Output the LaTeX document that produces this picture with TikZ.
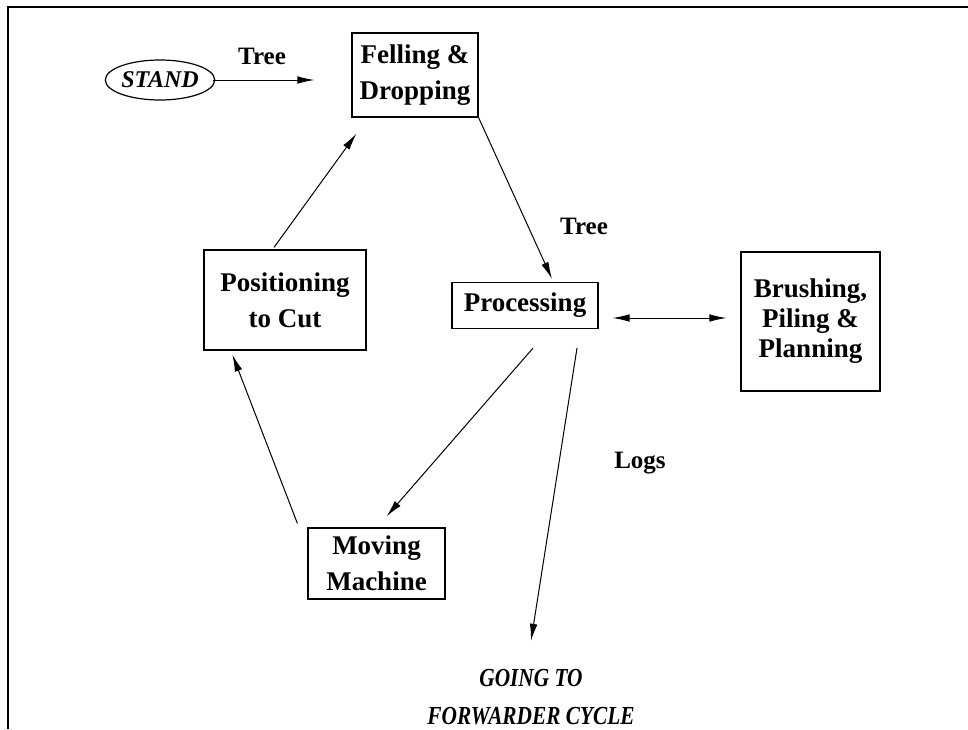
\documentclass[tikz,border=0pt]{standalone}
\usepackage{fontspec}
\setmainfont{Liberation Serif}
\newfontfamily\narrowfont[FakeStretch=0.82]{Liberation Serif}
\usetikzlibrary{arrows.meta,shapes.geometric}

\tikzset{
	stepbox/.style={draw,line width=0.6pt,align=center,inner sep=0pt,
		font=\fontsize{13.5}{18}\selectfont\bfseries},
	lbl/.style={font=\fontsize{12.5}{15}\selectfont\bfseries},
	arr/.style={line width=0.5pt,-{Latex[length=8.5pt,width=3.8pt]}}
}

\begin{document}
\begin{tikzpicture}[x=0.5pt,y=-0.5pt]
		\useasboundingbox (0,0) rectangle (968,729);
		% frame
		\draw[line width=0.8pt] (968,7) -- (8,7) -- (8,729);
		% boxes
		\node[draw,ellipse,line width=0.6pt,minimum width=49pt,minimum height=20pt,inner sep=0pt,
			font=\fontsize{12}{14}\selectfont\bfseries\itshape] (stand) at (160,80) {STAND};
		\node[stepbox,minimum width=63pt,minimum height=42pt] (fell) at (415,75) {Felling \&\\Dropping};
		\node[stepbox,minimum width=73pt,minimum height=23pt] (proc) at (525,305.5) {Processing};
		\node[stepbox,minimum width=69.5pt,minimum height=69.5pt,
			font=\fontsize{13.5}{15}\selectfont\bfseries] (brush) at (810.5,321.5) {Brushing,\\Piling \&\\Planning};
		\node[stepbox,minimum width=81pt,minimum height=50pt] (pos) at (285,300) {Positioning\\to Cut};
		\node[stepbox,minimum width=68.5pt,minimum height=35.5pt] (moving) at (376.5,563.5) {Moving\\Machine};
		\node[align=center,inner sep=0pt,font=\fontsize{13}{19}\selectfont\narrowfont\bfseries\itshape] (going) at (531,697)
			{GOING TO\\FORWARDER CYCLE};
		% labels
		\node[lbl] (tree1) at (262,56) {Tree};
		\node[lbl] (tree2) at (584,226) {Tree};
		\node[lbl] (logs) at (640,463) {Logs};
		% arrows
		\draw[arr,shorten <=-1pt,shorten >=18.5pt] (stand.east) -- (stand.east -| fell.west);
		\draw[arr] (fell.south east) -- ([xshift=13.5pt,yshift=1.5pt]proc.north);
		\draw[arr] ([xshift=4pt,yshift=-9.5pt]proc.south) -- ([xshift=5pt,yshift=5.5pt]moving.north);
		\draw[arr] ([xshift=-5pt,yshift=2pt]moving.north west) -- ([xshift=14.5pt,yshift=-2pt]pos.south west);
		\draw[arr] ([xshift=-5.5pt,yshift=1pt]pos.north) -- ([xshift=2.5pt,yshift=-8pt]fell.south west);
		\draw[arr] ([xshift=26pt,yshift=-9.5pt]proc.south) -- ([yshift=14pt]going.north);
		\draw[arr,{Latex[length=8.5pt,width=3.8pt]}-{Latex[length=8.5pt,width=3.8pt]}]
			([xshift=7pt,yshift=-6.25pt]proc.east) -- ([xshift=-7pt,yshift=1.75pt]brush.west);
	\end{tikzpicture}
\end{document}
